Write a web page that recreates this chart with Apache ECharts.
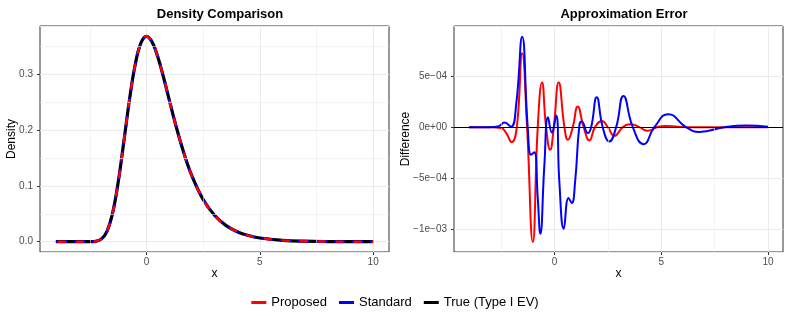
<!DOCTYPE html>
<html>
<head>
<meta charset="utf-8">
<script src="https://cdn.jsdelivr.net/npm/echarts@6/dist/echarts.min.js"></script>
<style>
  html, body { margin: 0; padding: 0; background: #fff; }
  #chart { width: 790px; height: 316px; }
</style>
</head>
<body>
<div id="chart"></div>
<script>
// density panel
var densX = [-4, -3, -2.5, -2.25, -2, -1.75, -1.5, -1.25, -1, -0.75, -0.5, -0.25, 0, 0.25, 0.5, 0.75, 1, 1.25, 1.5, 1.75, 2, 2.5, 3, 3.5, 4, 4.5, 5, 6, 7, 8, 9, 10];
var densTrue = [0, 0, 0.0001, 0.0007, 0.0046, 0.0182, 0.0507, 0.1064, 0.1794, 0.2549, 0.3170, 0.3556, 0.3679, 0.3574, 0.3307, 0.2945, 0.2546, 0.2151, 0.1785, 0.1460, 0.1182, 0.0756, 0.0474, 0.0293, 0.0180, 0.0110, 0.0067, 0.0025, 0.0009, 0.0003, 0.0001, 0.0000];
// the two approximations can not be told apart from the true curve at this scale
var densProposed = densTrue.slice();
var densStandard = densTrue.slice();

// error panel
var errPropX = [-4, -3, -2.5, -2.25, -2.0, -1.76, -1.51, -1.28, -1.01, -0.78, -0.58, -0.39, -0.20, -0.03, 0.20, 0.47, 0.63, 0.86, 1.09, 1.37, 1.64, 1.90, 2.23, 2.50, 2.81, 3.20, 3.59, 3.98, 4.37, 4.80, 5.20, 5.80, 6.5, 7.5, 8.5, 10];
var errProp = [0, 0, -0.000008, -0.00006, -0.000146, 0, 0.000721, 0, -0.00112, 0, 0.000435, 0, -0.000221, 0, 0.000435, 0, -0.000124, 0, 0.000201, 0, -0.000130, 0, 0.000061, 0, -0.000085, 0, 0.000029, 0, -0.000036, 0, 0.000012, 0.000003, -0.000002, 0, 0, 0];
var errStdX = [-4, -3, -2.6, -2.34, -2.03, -1.79, -1.51, -1.25, -1.09, -0.94, -0.78, -0.66, -0.47, -0.30, -0.12, 0.08, 0.23, 0.44, 0.66, 0.81, 0.97, 1.17, 1.28, 1.56, 1.72, 1.98, 2.26, 2.57, 2.89, 3.23, 3.67, 4.18, 4.68, 5.33, 6.16, 6.79, 7.96, 8.97, 10];
var errStd = [0, 0, 0.00001, 0.000045, 0.000005, 0.00022, 0.000883, 0, -0.00027, -0.000245, -0.00069, -0.00104, -0.00037, 0.000097, -0.000052, 0.000113, -0.00053, -0.00099, -0.00069, -0.00074, -0.00053, 0.00002, 0.000055, -0.000058, 0, 0.000292, 0, -0.00014, 0, 0.000305, 0, -0.000166, 0, 0.000127, 0, -0.000046, 0, 0.000016, 0.000005];

var xTicks = [0, 5, 10];
var xMinor = [-2.5, 2.5, 7.5];
var densMinor = [0.05, 0.15, 0.25, 0.35];
var errMinor = [-0.00075, -0.00025, 0.00025, 0.00075];

var FONT = "'Liberation Sans', Arial, sans-serif";

function pairs(xs, ys) {
  var out = [];
  for (var i = 0; i < xs.length; i++) out.push([xs[i], ys[i]]);
  return out;
}

function sciLabel(v) {
  if (v === 0) return '0e+00';
  var a = Math.abs(v);
  var e = Math.floor(Math.log10(a) + 1e-9);
  var m = Math.round(a / Math.pow(10, e));
  var es = Math.abs(e) < 10 ? '0' + Math.abs(e) : '' + Math.abs(e);
  return (v < 0 ? '\u2212' : '') + m + 'e' + (e < 0 ? '\u2212' : '+') + es;
}

function minorLines(xs, ys) {
  var data = [];
  xs.forEach(function (v) { data.push({ xAxis: v }); });
  ys.forEach(function (v) { data.push({ yAxis: v }); });
  return data;
}

function xAxisOf(idx) {
  return {
    type: 'value', gridIndex: idx, min: -4.7, max: 10.7,
    name: 'x', nameLocation: 'middle', nameGap: 16, nameMoveOverlap: false,
    nameTextStyle: { fontFamily: FONT, fontSize: 12, color: '#000' },
    axisLine: { show: false, onZero: false },
    axisTick: { show: true, length: 3, customValues: xTicks, lineStyle: { color: '#333' } },
    axisLabel: { customValues: xTicks, margin: 5, fontFamily: FONT, fontSize: 10, color: '#4d4d4d' },
    splitLine: { show: true, lineStyle: { color: '#ebebeb', width: 1 } }
  };
}

function yAxisOf(idx, min, max, name, gap, fmt) {
  return {
    type: 'value', gridIndex: idx, min: min, max: max,
    name: name, nameLocation: 'middle', nameGap: gap, nameMoveOverlap: false,
    nameTextStyle: { fontFamily: FONT, fontSize: 12, color: '#000' },
    axisLine: { show: false, onZero: false },
    axisTick: { show: true, length: 3, lineStyle: { color: '#333' } },
    axisLabel: { margin: 7, fontFamily: FONT, fontSize: 10, color: '#4d4d4d', showMinLabel: false, showMaxLabel: false, formatter: fmt },
    splitLine: { show: true, lineStyle: { color: '#ebebeb', width: 1 } }
  };
}

var chart = echarts.init(document.getElementById('chart'), null, { renderer: 'canvas' });

var option = {
  animation: false,
  backgroundColor: '#fff',
  textStyle: { fontFamily: FONT },
  title: [
    { text: 'Density Comparison', left: 215, top: 3, textAlign: 'center',
      textStyle: { fontFamily: FONT, fontSize: 13, fontWeight: 'bold', color: '#000' } },
    { text: 'Approximation Error', left: 619, top: 3, textAlign: 'center',
      textStyle: { fontFamily: FONT, fontSize: 13, fontWeight: 'bold', color: '#000' } }
  ],
  legend: {
    bottom: 2, left: 'center',
    data: ['Proposed', 'Standard', 'True (Type I EV)'],
    icon: 'rect', itemWidth: 15, itemHeight: 3, itemGap: 12,
    textStyle: { fontFamily: FONT, fontSize: 13, color: '#000' }
  },
  grid: [
    { left: 40, right: 401, top: 26, bottom: 64, show: true, borderColor: '#333', borderWidth: 1, backgroundColor: 'transparent' },
    { left: 454, right: 7, top: 26, bottom: 64, show: true, borderColor: '#333', borderWidth: 1, backgroundColor: 'transparent' }
  ],
  xAxis: [xAxisOf(0), xAxisOf(1)],
  yAxis: [
    yAxisOf(0, -0.0184, 0.3863, 'Density', 22, function (v) { return v.toFixed(1); }),
    yAxisOf(1, -0.001218, 0.000987, 'Difference', 42, sciLabel)
  ],
  series: [
    // minor grid for the left panel
    { type: 'line', xAxisIndex: 0, yAxisIndex: 0, data: [], z: 1, silent: true,
      markLine: { silent: true, symbol: 'none', label: { show: false },
        lineStyle: { color: '#ebebeb', width: 0.6, type: 'solid' },
        data: minorLines(xMinor, densMinor) } },
    // minor grid + zero line for the right panel
    { type: 'line', xAxisIndex: 1, yAxisIndex: 1, data: [], z: 1, silent: true,
      markLine: { silent: true, symbol: 'none', label: { show: false },
        lineStyle: { color: '#ebebeb', width: 0.6, type: 'solid' },
        data: minorLines(xMinor, errMinor).concat([{ yAxis: 0, lineStyle: { color: '#000', width: 1.2 } }]) } },

    { name: 'True (Type I EV)', type: 'line', xAxisIndex: 0, yAxisIndex: 0, z: 2,
      data: pairs(densX, densTrue), smooth: 0.4, showSymbol: false, symbol: 'none',
      lineStyle: { color: '#000', width: 3.2 }, itemStyle: { color: '#000' } },
    { name: 'Standard', type: 'line', xAxisIndex: 0, yAxisIndex: 0, z: 3,
      data: pairs(densX, densStandard), smooth: 0.4, showSymbol: false, symbol: 'none',
      lineStyle: { color: '#0000ff', width: 2.4, type: [12, 6] }, itemStyle: { color: '#0000ff' } },
    { name: 'Proposed', type: 'line', xAxisIndex: 0, yAxisIndex: 0, z: 4,
      data: pairs(densX, densProposed), smooth: 0.4, showSymbol: false, symbol: 'none',
      lineStyle: { color: '#ff0000', width: 2.4, type: [8, 10], dashOffset: -2 }, itemStyle: { color: '#ff0000' } },

    { name: 'Proposed', type: 'line', xAxisIndex: 1, yAxisIndex: 1, z: 3,
      data: pairs(errPropX, errProp), smooth: 0.5, showSymbol: false, symbol: 'none',
      lineStyle: { color: '#ff0000', width: 2 }, itemStyle: { color: '#ff0000' } },
    { name: 'Standard', type: 'line', xAxisIndex: 1, yAxisIndex: 1, z: 4,
      data: pairs(errStdX, errStd), smooth: 0.5, showSymbol: false, symbol: 'none',
      lineStyle: { color: '#0000ff', width: 2 }, itemStyle: { color: '#0000ff' } }
  ]
};

chart.setOption(option);
</script>
</body>
</html>
